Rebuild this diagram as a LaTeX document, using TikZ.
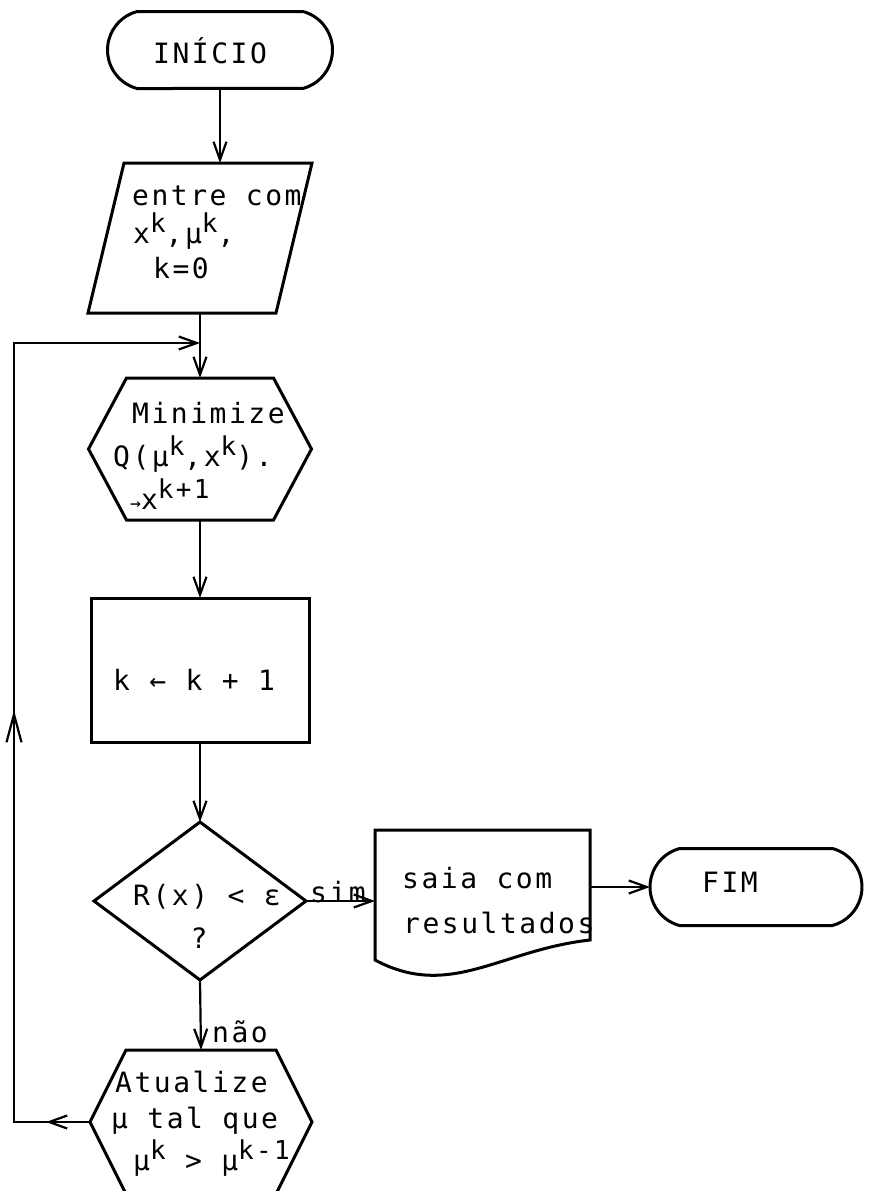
\documentclass[tikz,border=0pt]{standalone}
\usepackage{fontspec}
\usetikzlibrary{arrows.meta,shapes.geometric,shapes.misc,decorations.markings}
\newfontfamily\tw{DejaVu Sans Mono}[LetterSpace=9]
\newcommand\spr[1]{\raisebox{11pt}{\fontsize{26}{26}\selectfont #1}}
\newcommand\smallarrow{{\fontsize{18}{18}\selectfont →}}

\tikzset{
  >={Straight Barb[length=18pt,width=13pt]},
  longbarb/.tip={Straight Barb[length=28pt,width=15pt]},
  blk/.style={inner sep=0pt, outer sep=0pt},
  outline/.style={line width=3pt, line join=miter},
  terminal/.style={blk, rounded rectangle, rounded rectangle arc length=150, draw, outline},
  conn/.style={line width=2.2pt, ->},
  txt/.style={inner sep=0pt, anchor=base west, font=\tw\fontsize{28}{34}\selectfont},
}

\begin{document}
\begin{tikzpicture}[x=1pt, y=-1pt]
  \useasboundingbox (0,0) rectangle (882,1191);
  \fill[white] (0,0) rectangle (882,1191);

  % start terminal
  \node[terminal, minimum width=225pt, minimum height=77pt] (inicio) at (220,50) {};
  \node[txt] (tinicio) at (153,63) {INÍCIO};

  % input (parallelogram)
  \node[blk, minimum width=224pt, minimum height=150pt] (entrada) at (200,238) {};
  \draw[outline] ([xshift=36pt]entrada.north west) -- (entrada.north east)
     -- ([xshift=-36pt]entrada.south east) -- (entrada.south west) -- cycle;
  \node[txt] (te1) at (132,205) {entre com};
  \node[txt] (te2) at (133,243) {x\spr{k},μ\spr{k},};
  \node[txt] (te3) at (153,278) {k=0};

  % minimisation step (hexagon)
  \node[blk, minimum width=223pt, minimum height=142pt] (minz) at (200,449) {};
  \draw[outline] ([xshift=38pt]minz.north west) -- ([xshift=-38pt]minz.north east)
     -- (minz.east) -- ([xshift=-38pt]minz.south east)
     -- ([xshift=38pt]minz.south west) -- (minz.west) -- cycle;
  \node[txt] (tm1) at (132,423) {Minimize};
  \node[txt] (tm2) at (113,466) {Q(μ\spr{k},x\spr{k}).};
  \node[txt] (tm3) at (130,509) {\smallarrow x\spr{k+1}};

  % counter update
  \node[blk, draw, outline, minimum width=218pt, minimum height=144pt] (incr) at (200,670) {};
  \node[txt] (tk) at (113,690) {k ← k + 1};

  % convergence test
  \node[blk, diamond, draw, outline, minimum width=212pt, minimum height=158pt] (test) at (200,901) {};
  \node[txt] (tr1) at (133,905) {R(x) < ε};
  \node[txt, anchor=base] (tr2) at (199,948) {?};

  % output document
  \node[blk, minimum width=215pt, minimum height=130pt] (saida) at (482.5,895) {};
  \draw[outline] (saida.south west) -- (saida.north west) -- (saida.north east)
     -- ([yshift=20pt]saida.south east)
     .. controls (500,950) and (450,1000) .. (saida.south west) -- cycle;
  \node[txt] (ts1) at (402,888) {saia com};
  \node[txt] (ts2) at (403,933) {resultados};

  % end terminal
  \node[terminal, minimum width=212pt, minimum height=77pt] (fim) at (756,887) {};
  \node[txt] (tfim) at (702,892) {FIM};

  % penalty update (hexagon)
  \node[blk, minimum width=222pt, minimum height=144pt] (upd) at (201,1122) {};
  \draw[outline] ([xshift=36pt]upd.north west) -- ([xshift=-36pt]upd.north east)
     -- (upd.east) -- ([xshift=-36pt]upd.south east)
     -- ([xshift=36pt]upd.south west) -- (upd.west) -- cycle;
  \node[txt] (tu1) at (115,1092) {Atualize};
  \node[txt] (tu2) at (111,1128) {μ tal que};
  \node[txt] (tu3) at (133,1170) {μ\spr{k} > μ\spr{k-1}};

  % connectors
  \draw[conn] (inicio.south) -- (inicio.south |- entrada.north);
  \draw[conn] (entrada.south) -- (minz.north);
  \draw[conn] (minz.south) -- (incr.north);
  \draw[conn] (incr.south) -- (test.north);
  \draw[conn] (test.east) -- (test.east -| saida.west);
  \node[txt] (tsim) at ([xshift=4pt,yshift=-1pt]test.east) {sim};
  \draw[conn] (fim.west -| saida.east) -- (fim.west);
  \draw[conn] (test.south) -- (upd.north);
  \node[txt] (tnao) at (212,1042) {não};

  % feedback loop
  \coordinate (lc1) at (14,1122);
  \coordinate (lc2) at (14,343);
  \coordinate (lc3) at (200,343);
  \draw[conn, postaction={decorate},
        decoration={markings,
          mark=at position 44pt with {\arrow{>}},
          mark=at position 488pt with {\arrow{longbarb}}}]
     (upd.west) -- (lc1) -- (lc2) -- (lc3);
\end{tikzpicture}
\end{document}
